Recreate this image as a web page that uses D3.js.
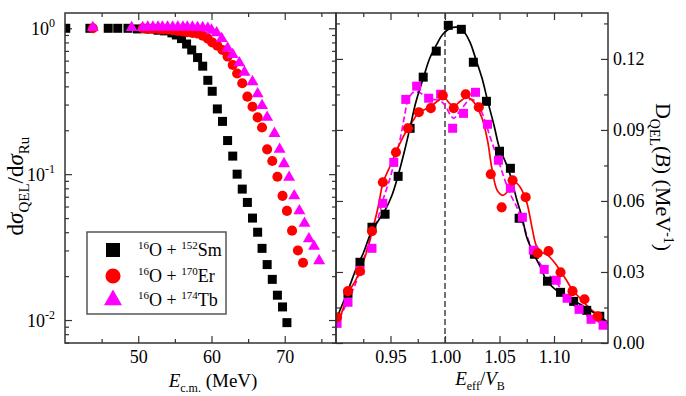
<!DOCTYPE html>
<html>
<head>
<meta charset="utf-8">
<script src="https://cdn.jsdelivr.net/npm/d3@7"></script>
<style>
  html, body { margin: 0; padding: 0; background: #fff; }
  svg { display: block; }
</style>
</head>
<body>
<svg id="chart" width="686" height="396"></svg>
<script>
'use strict';

// 左パネル：dσQEL/dσRu (E c.m.)
const smE = [40.1, 43.4, 45.9, 47.2, 48.6, 49.9, 51.3, 52.7, 53.6, 54.6, 55.2, 55.9, 56.6, 57.3, 58.1, 58.8, 59.5, 60.1, 60.8, 61.5, 62.2, 62.9, 63.5, 64.2, 64.9, 65.6, 66.3, 66.9, 67.6, 68.3, 69.0, 69.7, 70.3];
const smRatio = [1.00, 1.00, 1.00, 1.00, 1.00, 0.99, 0.99, 0.97, 0.96, 0.93, 0.90, 0.85, 0.78, 0.71, 0.63, 0.55, 0.44, 0.37, 0.28, 0.23, 0.17, 0.133, 0.100, 0.079, 0.064, 0.050, 0.040, 0.031, 0.024, 0.019, 0.0148, 0.0123, 0.0096];
const erE = [43.8, 50.6, 51.3, 52.0, 52.7, 53.3, 54.0, 54.7, 55.4, 56.1, 56.7, 57.4, 58.1, 58.8, 59.5, 60.1, 60.8, 61.5, 62.2, 62.9, 63.5, 64.2, 64.9, 65.6, 66.3, 66.9, 67.6, 68.3, 69.0, 69.7, 70.3, 71.0, 71.8, 72.5];
const erRatio = [1.00, 1.00, 0.99, 0.99, 0.99, 0.98, 0.98, 0.97, 0.96, 0.95, 0.94, 0.93, 0.92, 0.89, 0.85, 0.80, 0.76, 0.71, 0.64, 0.56, 0.49, 0.42, 0.34, 0.29, 0.245, 0.209, 0.148, 0.123, 0.096, 0.071, 0.056, 0.041, 0.030, 0.0247];
const tbE = [43.8, 49.1, 50.6, 51.3, 52.0, 52.7, 53.3, 54.0, 54.7, 55.4, 56.1, 56.7, 57.4, 58.1, 58.8, 59.5, 60.0, 60.7, 61.4, 62.2, 62.9, 63.8, 64.5, 65.6, 66.3, 66.9, 67.6, 68.6, 69.3, 69.9, 70.6, 71.3, 72.0, 72.7, 73.3, 74.0, 74.7];
const tbRatio = [1.01, 1.01, 1.01, 1.02, 1.02, 1.02, 1.02, 1.02, 1.02, 1.02, 1.02, 1.02, 1.02, 1.01, 1.01, 1.00, 0.97, 0.93, 0.85, 0.73, 0.66, 0.58, 0.50, 0.43, 0.355, 0.295, 0.245, 0.19, 0.148, 0.118, 0.095, 0.071, 0.056, 0.046, 0.036, 0.032, 0.0255];

// 右パネル：D_QEL(B) (E eff / V B)
const smX = [0.911, 0.922, 0.933, 0.945, 0.957, 0.968, 0.980, 0.992, 1.003, 1.015, 1.026, 1.038, 1.050, 1.060, 1.068, 1.082, 1.094, 1.106, 1.118, 1.130, 1.142];
const smD = [0.0210, 0.0341, 0.0489, 0.0544, 0.0704, 0.0907, 0.1123, 0.1233, 0.1342, 0.1325, 0.1186, 0.1021, 0.0810, 0.0738, 0.0527, 0.0375, 0.0261, 0.0214, 0.0176, 0.0138, 0.0113];
const erX = [0.901, 0.911, 0.922, 0.933, 0.943, 0.955, 0.966, 0.976, 0.987, 0.998, 1.008, 1.019, 1.031, 1.042, 1.052, 1.062, 1.074, 1.085, 1.095, 1.106, 1.117, 1.128, 1.140];
const erD = [0.0109, 0.0219, 0.0303, 0.0472, 0.0679, 0.0806, 0.0907, 0.0975, 0.0992, 0.1046, 0.0992, 0.1051, 0.0996, 0.0713, 0.0573, 0.0687, 0.0616, 0.0379, 0.0388, 0.0299, 0.0219, 0.0185, 0.0113];
const tbX = [0.901, 0.911, 0.922, 0.933, 0.943, 0.953, 0.964, 0.974, 0.985, 0.996, 1.007, 1.017, 1.028, 1.039, 1.049, 1.060, 1.071, 1.081, 1.091, 1.102, 1.112, 1.123, 1.134, 1.145];
const tbD = [0.0083, 0.0172, 0.0307, 0.0400, 0.0590, 0.0763, 0.1029, 0.1085, 0.1034, 0.1051, 0.0907, 0.0970, 0.1059, 0.0924, 0.0772, 0.0654, 0.0531, 0.0392, 0.0311, 0.0265, 0.0189, 0.0142, 0.0100, 0.0075];

// フィット曲線
const smFitX = [0.901, 0.911, 0.919, 0.925, 0.933, 0.939, 0.945, 0.951, 0.957, 0.963, 0.968, 0.973, 0.980, 0.986, 0.992, 0.998, 1.005, 1.011, 1.017, 1.023, 1.028, 1.034, 1.039, 1.045, 1.050, 1.056, 1.060, 1.066, 1.071, 1.075, 1.082, 1.088, 1.093, 1.099, 1.105, 1.112, 1.117, 1.124, 1.130, 1.136, 1.142, 1.150];
const smFitD = [0.0109, 0.0222, 0.0320, 0.0379, 0.0476, 0.0518, 0.0561, 0.0620, 0.0708, 0.0814, 0.0911, 0.1013, 0.1118, 0.1203, 0.1258, 0.1304, 0.1330, 0.1334, 0.1317, 0.1270, 0.1203, 0.1118, 0.1025, 0.0919, 0.0823, 0.0759, 0.0708, 0.0603, 0.0527, 0.0447, 0.0371, 0.0316, 0.0265, 0.0235, 0.0214, 0.0197, 0.0180, 0.0164, 0.0147, 0.0130, 0.0113, 0.0085];
const erFitX = [0.900, 0.906, 0.911, 0.918, 0.922, 0.928, 0.933, 0.939, 0.943, 0.950, 0.955, 0.961, 0.966, 0.972, 0.976, 0.982, 0.987, 0.993, 0.999, 1.004, 1.008, 1.014, 1.020, 1.025, 1.029, 1.034, 1.039, 1.043, 1.048, 1.053, 1.060, 1.064, 1.069, 1.075, 1.080, 1.084, 1.089, 1.094, 1.101, 1.106, 1.112, 1.117, 1.124, 1.130, 1.136, 1.142, 1.150];
const erFitD = [0.0075, 0.0138, 0.0210, 0.0265, 0.0307, 0.0383, 0.0468, 0.0582, 0.0675, 0.0751, 0.0806, 0.0865, 0.0907, 0.0949, 0.0975, 0.0987, 0.1000, 0.1021, 0.1038, 0.1013, 0.1000, 0.1021, 0.1038, 0.1025, 0.1000, 0.0949, 0.0856, 0.0738, 0.0644, 0.0624, 0.0654, 0.0679, 0.0658, 0.0594, 0.0484, 0.0409, 0.0383, 0.0371, 0.0337, 0.0303, 0.0261, 0.0223, 0.0189, 0.0159, 0.0134, 0.0109, 0.0080];
const tbFitX = [0.900, 0.906, 0.911, 0.918, 0.925, 0.931, 0.938, 0.943, 0.949, 0.954, 0.959, 0.963, 0.966, 0.971, 0.976, 0.982, 0.988, 0.995, 1.000, 1.005, 1.008, 1.012, 1.017, 1.023, 1.028, 1.033, 1.038, 1.043, 1.049, 1.055, 1.060, 1.066, 1.073, 1.080, 1.087, 1.094, 1.102, 1.109, 1.116, 1.124, 1.131, 1.138, 1.145];
const tbFitD = [0.0067, 0.0130, 0.0180, 0.0252, 0.0349, 0.0434, 0.0518, 0.0603, 0.0687, 0.0772, 0.0865, 0.0962, 0.1025, 0.1059, 0.1059, 0.1042, 0.1029, 0.1025, 0.1004, 0.0962, 0.0949, 0.0970, 0.1000, 0.1029, 0.1021, 0.0983, 0.0919, 0.0848, 0.0772, 0.0687, 0.0628, 0.0573, 0.0484, 0.0392, 0.0337, 0.0294, 0.0257, 0.0210, 0.0168, 0.0138, 0.0113, 0.0096, 0.0079];

// 目盛り
const leftXTicks = [50, 60, 70];
const leftXMinor = [45, 55, 65, 75];
const leftYTicks = [1, 0.1, 0.01];
const leftYExp = ['0', '-1', '-2'];
const rightXTicks = [0.95, 1.00, 1.05, 1.10];
const rightXMinor = [0.925, 0.975, 1.025, 1.075, 1.125];
const rightYTicks = [0, 0.03, 0.06, 0.09, 0.12];
const rightYMinor = [0.015, 0.045, 0.075, 0.105, 0.135];

// 凡例
const legendLabels = [['16', 'O + ', '152', 'Sm'], ['16', 'O + ', '170', 'Er'], ['16', 'O + ', '174', 'Tb']];

const serif = "'Liberation Serif', 'Times New Roman', serif";
const frameColor = '#333';
const red = '#ff0000';
const magenta = '#ff00ff';

const L = 65, M = 336, R = 608, T = 13, B = 343;

const svg = d3.select('#chart');

const leftX = d3.scaleLinear().domain([40, 77]).range([L, M]);
const leftY = d3.scaleLog().domain([0.00696, 1.273]).range([B, T]);
const rightX = d3.scaleLinear().domain([0.9, 1.15]).range([M, R + 0.5]);
const rightY = d3.scaleLinear().domain([0, 0.1394]).range([B, T]);

// クリップ
const defs = svg.append('defs');
defs.append('clipPath').attr('id', 'clipL')
    .append('rect').attr('x', L).attr('y', T).attr('width', M - L).attr('height', B - T);
defs.append('clipPath').attr('id', 'clipR')
    .append('rect').attr('x', M).attr('y', T).attr('width', R - M).attr('height', B - T);

// 軸を描く
const drawAxis = (axisGen, tx, ty) => svg.append('g')
    .attr('transform', `translate(${tx},${ty})`)
    .call(axisGen)
    .attr('font-family', serif)
    .call(g => g.select('.domain').remove())
    .call(g => g.selectAll('line').attr('stroke', frameColor).attr('stroke-width', 1.2))
    .call(g => g.selectAll('text')
        .attr('font-family', serif)
        .attr('font-size', 18)
        .attr('fill', '#000'));

// 対数の補助目盛り
const logMinor = [];
[0.001, 0.01, 0.1].forEach(dec => {
    for (let k = 2; k <= 9; k++) {
        const v = dec * k;
        if (v > 0.00696 && v < 1.273) logMinor.push(v);
    }
});

// 左パネルの軸
drawAxis(d3.axisBottom(leftX).tickValues(leftXTicks).tickSize(-7).tickPadding(7).tickFormat(d3.format('d')), 0, B);
drawAxis(d3.axisBottom(leftX).tickValues(leftXMinor).tickSize(-4).tickFormat(''), 0, B);
drawAxis(d3.axisTop(leftX).tickValues(leftXTicks).tickSize(-7).tickFormat(''), 0, T);
drawAxis(d3.axisTop(leftX).tickValues(leftXMinor).tickSize(-4).tickFormat(''), 0, T);
drawAxis(d3.axisLeft(leftY).tickValues(leftYTicks).tickSize(-7).tickFormat(''), L, 0);
drawAxis(d3.axisLeft(leftY).tickValues(logMinor).tickSize(-4).tickFormat(''), L, 0);
drawAxis(d3.axisRight(leftY).tickValues(leftYTicks).tickSize(-7).tickFormat(''), M, 0);
drawAxis(d3.axisRight(leftY).tickValues(logMinor).tickSize(-4).tickFormat(''), M, 0);

// 10^n ラベル
const logLabel = svg.append('g')
    .attr('font-family', serif)
    .attr('font-size', 18)
    .selectAll('text')
    .data(leftYTicks)
    .enter()
    .append('text')
    .attr('x', L - 10)
    .attr('y', d => leftY(d) + 6.5)
    .attr('text-anchor', 'end');
logLabel.append('tspan').text('10');
logLabel.append('tspan')
    .attr('font-size', 12)
    .attr('dy', -8)
    .text((d, i) => leftYExp[i]);

// 右パネルの軸
drawAxis(d3.axisBottom(rightX).tickValues(rightXTicks).tickSize(-7).tickPadding(7).tickFormat(d3.format('.2f')), 0, B);
drawAxis(d3.axisBottom(rightX).tickValues(rightXMinor).tickSize(-4).tickFormat(''), 0, B);
drawAxis(d3.axisTop(rightX).tickValues(rightXTicks).tickSize(-7).tickFormat(''), 0, T);
drawAxis(d3.axisTop(rightX).tickValues(rightXMinor).tickSize(-4).tickFormat(''), 0, T);
drawAxis(d3.axisLeft(rightY).tickValues(rightYTicks).tickSize(-7).tickFormat(''), M, 0);
drawAxis(d3.axisLeft(rightY).tickValues(rightYMinor).tickSize(-4).tickFormat(''), M, 0);
drawAxis(d3.axisRight(rightY).tickValues(rightYTicks).tickSize(-7).tickPadding(5).tickFormat(d3.format('.2f')), R, 0);
drawAxis(d3.axisRight(rightY).tickValues(rightYMinor).tickSize(-4).tickFormat(''), R, 0);

// E/VB = 1 の破線
svg.append('line')
    .attr('x1', rightX(1)).attr('x2', rightX(1))
    .attr('y1', T).attr('y2', B)
    .attr('stroke', '#444')
    .attr('stroke-width', 1.5)
    .attr('stroke-dasharray', '6,3');

// 左パネルの点
const zip = (xs, ys) => xs.map((x, i) => [x, ys[i]]);
const leftPlot = svg.append('g').attr('clip-path', 'url(#clipL)');
const drawSymbols = (g, data, sx, sy, type, size, color) => {
    g.selectAll(null)
        .data(data)
        .enter()
        .append('path')
        .attr('d', d3.symbol().type(type).size(size))
        .attr('transform', d => `translate(${sx(d[0])},${sy(d[1])})`)
        .attr('fill', color);
};
drawSymbols(leftPlot, zip(smE, smRatio), leftX, leftY, d3.symbolSquare, 81, '#000');
drawSymbols(leftPlot, zip(erE, erRatio), leftX, leftY, d3.symbolCircle, 80, red);
drawSymbols(leftPlot, zip(tbE, tbRatio), leftX, leftY, d3.symbolTriangle, 62, magenta);

// 右パネルの線と点
const rightPlot = svg.append('g').attr('clip-path', 'url(#clipR)');
const line = d3.line()
    .x(d => rightX(d[0]))
    .y(d => rightY(d[1]))
    .curve(d3.curveCatmullRom.alpha(0.5));
rightPlot.append('path')
    .attr('d', line(zip(tbFitX, tbFitD)))
    .attr('fill', 'none')
    .attr('stroke', magenta)
    .attr('stroke-width', 1.7)
    .attr('stroke-dasharray', '6,3');
rightPlot.append('path')
    .attr('d', line(zip(erFitX, erFitD)))
    .attr('fill', 'none')
    .attr('stroke', red)
    .attr('stroke-width', 1.7);
rightPlot.append('path')
    .attr('d', line(zip(smFitX, smFitD)))
    .attr('fill', 'none')
    .attr('stroke', '#000')
    .attr('stroke-width', 1.7);
drawSymbols(rightPlot, zip(smX, smD), rightX, rightY, d3.symbolSquare, 81, '#000');
drawSymbols(rightPlot, zip(tbX, tbD), rightX, rightY, d3.symbolSquare, 81, magenta);
drawSymbols(rightPlot, zip(erX, erD), rightX, rightY, d3.symbolCircle, 80, red);

// 枠
[[L, M], [M, R]].forEach(([x0, x1]) => {
    svg.append('rect')
        .attr('x', x0).attr('y', T)
        .attr('width', x1 - x0).attr('height', B - T)
        .attr('fill', 'none')
        .attr('stroke', frameColor)
        .attr('stroke-width', 1.5);
});

// 凡例
const legend = svg.append('g').attr('font-family', serif);
legend.append('rect')
    .attr('x', 87).attr('y', 232)
    .attr('width', 139).attr('height', 82)
    .attr('fill', '#fff')
    .attr('stroke', '#555')
    .attr('stroke-width', 1.5);
const legendSymbols = [[d3.symbolSquare, 196, '#000'], [d3.symbolCircle, 180, red], [d3.symbolTriangle, 140, magenta]];
const legendRowY = [250, 276, 300];
legendSymbols.forEach(([type, size, color], i) => {
    legend.append('path')
        .attr('d', d3.symbol().type(type).size(size))
        .attr('transform', `translate(113,${legendRowY[i]})`)
        .attr('fill', color);
    const t = legend.append('text')
        .attr('x', 138)
        .attr('y', legendRowY[i] + 6)
        .attr('font-size', 18);
    const [a, b, c, d] = legendLabels[i];
    t.append('tspan').attr('font-size', 11).attr('dy', -7).text(a);
    t.append('tspan').attr('dy', 7).text(b);
    t.append('tspan').attr('font-size', 11).attr('dy', -7).text(c);
    t.append('tspan').attr('dy', 7).text(d);
});

// 軸タイトル
const xTitleL = svg.append('text')
    .attr('font-family', serif)
    .attr('font-size', 19)
    .attr('x', 213).attr('y', 387)
    .attr('text-anchor', 'middle');
xTitleL.append('tspan').attr('font-style', 'italic').text('E');
xTitleL.append('tspan').attr('font-size', 12).attr('dy', 5).text('c.m.');
xTitleL.append('tspan').attr('dy', -5).text(' (MeV)');

const xTitleR = svg.append('text')
    .attr('font-family', serif)
    .attr('font-size', 19)
    .attr('x', 480).attr('y', 385)
    .attr('text-anchor', 'middle');
xTitleR.append('tspan').attr('font-style', 'italic').text('E');
xTitleR.append('tspan').attr('font-size', 12).attr('dy', 5).text('eff');
xTitleR.append('tspan').attr('dy', -5).text('/');
xTitleR.append('tspan').attr('font-style', 'italic').text('V');
xTitleR.append('tspan').attr('font-size', 12).attr('dy', 5).text('B');

const yTitleL = svg.append('text')
    .attr('font-family', serif)
    .attr('font-size', 23)
    .attr('text-anchor', 'middle')
    .attr('transform', 'translate(23,186) rotate(-90)');
yTitleL.append('tspan').text('d');
yTitleL.append('tspan').attr('font-style', 'italic').text('σ');
yTitleL.append('tspan').attr('font-size', 15).attr('dy', 6).text('QEL');
yTitleL.append('tspan').attr('dy', -6).text('/d');
yTitleL.append('tspan').attr('font-style', 'italic').text('σ');
yTitleL.append('tspan').attr('font-size', 15).attr('dy', 6).text('Ru');

const yTitleR = svg.append('text')
    .attr('font-family', serif)
    .attr('font-size', 22)
    .attr('text-anchor', 'middle')
    .attr('transform', 'translate(656,177) rotate(90)');
yTitleR.append('tspan').text('D');
yTitleR.append('tspan').attr('font-size', 14).attr('dy', 6).text('QEL');
yTitleR.append('tspan').attr('dy', -6).text('(');
yTitleR.append('tspan').attr('font-style', 'italic').text('B');
yTitleR.append('tspan').text(') (MeV');
yTitleR.append('tspan').attr('font-size', 14).attr('dy', -8).text('-1');
yTitleR.append('tspan').attr('dy', 8).text(')');
</script>
</body>
</html>
